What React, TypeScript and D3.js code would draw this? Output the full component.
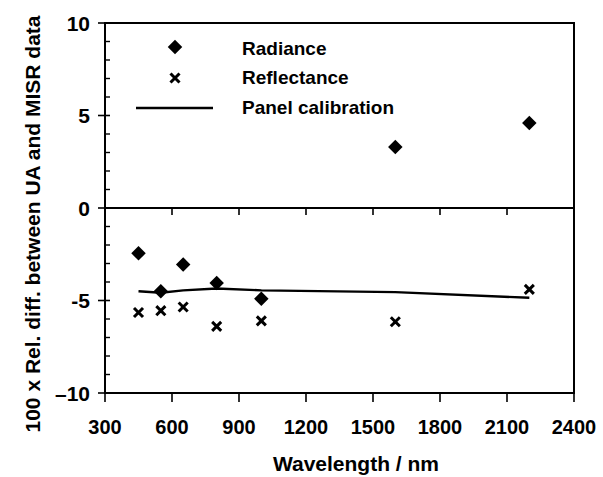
import React from 'react'
import * as d3 from 'd3'

// wavelengths of the UA radiometer bands (nm)
const wavelengths = [450, 550, 650, 800, 1000, 1600, 2200]
const radiance = [-2.45, -4.5, -3.05, -4.05, -4.9, 3.3, 4.6]
const reflectance = [-5.65, -5.55, -5.35, -6.4, -6.1, -6.15, -4.4]
const panelCal = [-4.5, -4.58, -4.45, -4.35, -4.45, -4.55, -4.85]

const xTicks = [300, 600, 900, 1200, 1500, 1800, 2100, 2400]
const yTicks = [10, 5, 0, -5, -10]
const yTickLabels = ['10', '5', '0', '-5', '\u201310']
const legendItems = ['Radiance', 'Reflectance', 'Panel calibration']

const W = 603
const H = 477
const font = '"Liberation Sans", Arial, sans-serif'

const App = () => {
  const x = d3.scaleLinear().domain([300, 2400]).range([105, 574])
  const y = d3.scaleLinear().domain([-10, 10]).range([393, 23])

  const minor = d3.range(-10, 11, 1).filter((v) => v % 5 !== 0)
  const diamond = d3.symbol(d3.symbolSquare, 105)()
  const cross = d3.symbol(d3.symbolX, 55)()

  const line = d3.line<number>()
    .x((d, i) => x(wavelengths[i]))
    .y((d) => y(d))

  return (
    <svg width={W} height={H} style={{ position: 'absolute', left: 0, top: 0, background: '#fff' }}
      fontFamily={font} fontWeight="bold">
      {/* frame */}
      <rect x={x(300)} y={y(10)} width={x(2400) - x(300)} height={y(-10) - y(10)}
        fill="none" stroke="#000" strokeWidth={2} />
      {/* zero line */}
      <line x1={x(300)} x2={x(2400)} y1={y(0)} y2={y(0)} stroke="#000" strokeWidth={2} />
      {xTicks.slice(1, -1).map((t) => (
        <line key={'z' + t} x1={x(t)} x2={x(t)} y1={y(0)} y2={y(0) + 7} stroke="#000" strokeWidth={1.6} />
      ))}

      {/* x axis */}
      {xTicks.map((t) => (
        <g key={t}>
          <line x1={x(t)} x2={x(t)} y1={y(-10)} y2={y(-10) + 9} stroke="#000" strokeWidth={1.6} />
          <text x={x(t)} y={434} textAnchor="middle" fontSize={20}>{t}</text>
        </g>
      ))}
      <text x={356} y={471} textAnchor="middle" fontSize={21}>Wavelength / nm</text>

      {/* y axis */}
      {yTicks.map((t, i) => (
        <g key={t}>
          <line x1={x(300) - 7} x2={x(300) + 5} y1={y(t)} y2={y(t)} stroke="#000" strokeWidth={1.6} />
          <text x={90} y={y(t)} dy="0.36em" textAnchor="end" fontSize={21}>{yTickLabels[i]}</text>
        </g>
      ))}
      {minor.map((t) => (
        <line key={'m' + t} x1={x(300)} x2={x(300) + 5} y1={y(t)} y2={y(t)} stroke="#000" strokeWidth={1.4} />
      ))}
      <text transform={`translate(40,224) rotate(-90)`} textAnchor="middle" fontSize={21}>
        100 x Rel. diff. between UA and MISR data
      </text>

      {/* panel calibration */}
      <path d={line(panelCal) || ''} fill="none" stroke="#000" strokeWidth={2.4} />

      {/* radiance */}
      {radiance.map((v, i) => (
        <path key={'r' + i} d={diamond || ''} fill="#000"
          transform={`translate(${x(wavelengths[i])},${y(v)}) rotate(45)`} />
      ))}
      {/* reflectance */}
      {reflectance.map((v, i) => (
        <path key={'f' + i} d={cross || ''} fill="none" stroke="#000" strokeWidth={3}
          transform={`translate(${x(wavelengths[i])},${y(v)})`} />
      ))}

      {/* legend */}
      <path d={diamond || ''} fill="#000" transform="translate(175,47) rotate(45)" />
      <path d={cross || ''} fill="none" stroke="#000" strokeWidth={3} transform="translate(175,78)" />
      <line x1={136} x2={213} y1={108} y2={108} stroke="#000" strokeWidth={2.4} />
      {legendItems.map((s, i) => (
        <text key={s} x={242} y={[55, 84, 114][i]} fontSize={19}>{s}</text>
      ))}
    </svg>
  )
}

export default App
